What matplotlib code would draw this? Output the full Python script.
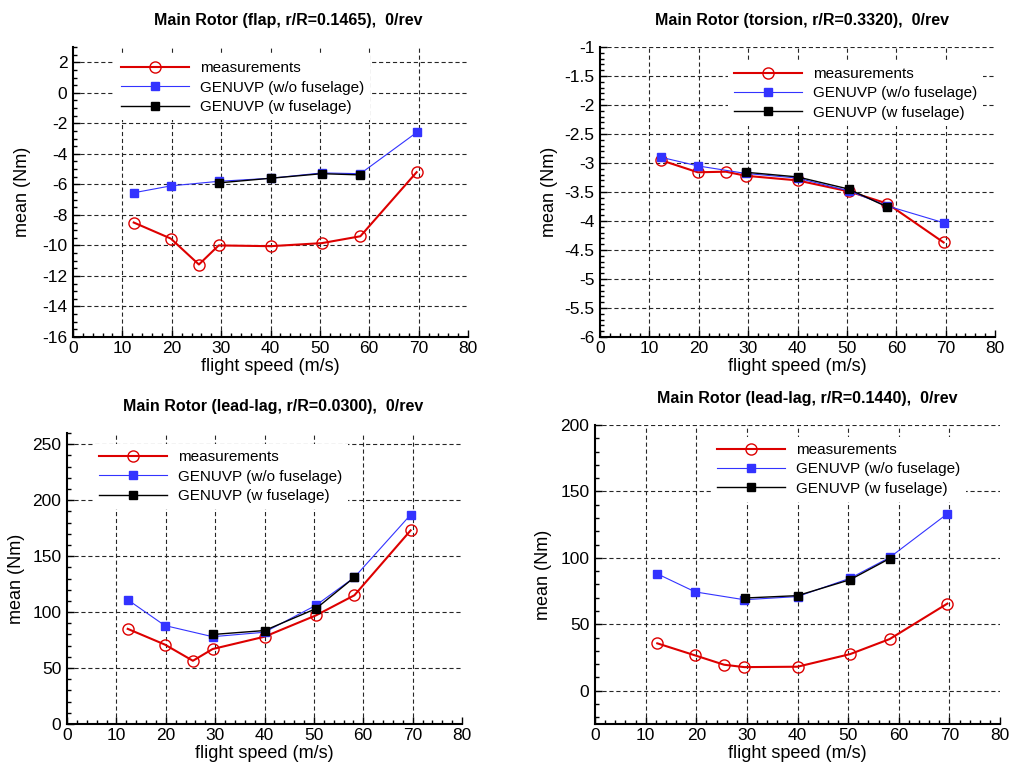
import matplotlib
matplotlib.use("Agg")
import matplotlib.pyplot as plt
from matplotlib.ticker import MultipleLocator, FuncFormatter

plt.rcParams["font.family"] = ["Liberation Sans", "DejaVu Sans"]
plt.rcParams["axes.unicode_minus"] = False
plt.rcParams["lines.scale_dashes"] = False

# flight speeds (m/s)
speed_meas = [12.3, 19.8, 25.5, 29.5, 40.0, 50.4, 58.2, 69.6]
speed_wo = [12.3, 19.8, 29.5, 40.0, 50.4, 58.2, 69.6]
speed_w = [29.6, 40.0, 50.4, 58.2]

# flap, r/R=0.1465
flap_meas = [-8.5, -9.55, -11.25, -10.0, -10.05, -9.85, -9.4, -5.2]
flap_wo = [-6.55, -6.1, -5.8, -5.6, -5.25, -5.3, -2.6]
flap_w = [-5.9, -5.6, -5.3, -5.38]

# torsion, r/R=0.3320
tors_meas = [-2.95, -3.16, -3.15, -3.22, -3.30, -3.49, -3.70, -4.37]
tors_wo = [-2.90, -3.05, -3.18, -3.26, -3.48, -3.74, -4.03]
tors_w = [-3.16, -3.24, -3.45, -3.76]

# lead-lag, r/R=0.0300
lag1_meas = [85, 71, 56.5, 67, 78, 97, 115, 173]
lag1_wo = [111, 88, 78, 82, 106, 131, 187]
lag1_w = [80, 83.5, 103, 131]

# lead-lag, r/R=0.1440
lag2_meas = [35.7, 26.6, 19.6, 17.8, 18.1, 27.6, 38.9, 65.6]
lag2_wo = [88, 74.4, 68.5, 70.9, 84.7, 100.3, 133.2]
lag2_w = [69.8, 71.6, 83.6, 99.5]

W, H = 1012, 764
fig = plt.figure(figsize=(W / 100, H / 100), dpi=100)

panels = [
    # title, data, ylim, ymajor, yminor, axes box px (l, r, t, b), title px (x, y), legend anchor
    ("Main Rotor (flap, r/R=0.1465),  0/rev", (flap_meas, flap_wo, flap_w),
     (-16, 3), 2, 0.5, (73, 468, 47, 337), (288, 21), (0.106, 0.972)),
    ("Main Rotor (torsion, r/R=0.3320),  0/rev", (tors_meas, tors_wo, tors_w),
     (-6, -1), 0.5, 0.1, (600, 995, 47, 337), (802, 21), (0.324, 0.952)),
    ("Main Rotor (lead-lag, r/R=0.0300),  0/rev", (lag1_meas, lag1_wo, lag1_w),
     (0, 260), 50, 10, (67, 462, 433, 724), (273, 407), (0.066, 0.962)),
    ("Main Rotor (lead-lag, r/R=0.1440),  0/rev", (lag2_meas, lag2_wo, lag2_w),
     (-25, 200), 50, 10, (595, 1000, 425, 724), (807, 399), (0.286, 0.960)),
]

fmt = FuncFormatter(lambda v, p: "%g" % v)

for title, (meas, wo, w), ylim, ymaj, ymin, box, tpos, lanchor in panels:
    l, r, t, b = box
    ax = fig.add_axes([l / W, 1 - b / H, (r - l) / W, (b - t) / H])

    ax.plot(speed_meas, meas, color="#dd0000", lw=1.5, marker="o", ms=8,
            mfc="none", mec="#dd0000", mew=1.0, label="measurements", zorder=3)
    ax.plot(speed_wo, wo, color="#3333ff", lw=0.8, marker="s", ms=5.5,
            mec="#3333ff", mfc="#3333ff", label="GENUVP (w/o fuselage)", zorder=4)
    ax.plot(speed_w, w, color="black", lw=1.0, marker="s", ms=5.5,
            mec="black", mfc="black", label="GENUVP (w fuselage)", zorder=5)

    ax.set_xlim(0, 80)
    ax.set_ylim(*ylim)
    ax.xaxis.set_major_locator(MultipleLocator(10))
    ax.xaxis.set_minor_locator(MultipleLocator(2))
    ax.yaxis.set_major_locator(MultipleLocator(ymaj))
    ax.yaxis.set_minor_locator(MultipleLocator(ymin))
    ax.xaxis.set_major_formatter(fmt)
    ax.yaxis.set_major_formatter(fmt)

    for s in ("top", "right"):
        ax.spines[s].set_visible(False)
    for s in ("left", "bottom"):
        ax.spines[s].set_linewidth(1.5)

    ax.tick_params(which="both", direction="in", width=1, labelsize=12.5)
    ax.tick_params(which="major", length=5)
    ax.tick_params(which="minor", length=3)
    ax.tick_params(axis="x", pad=3)
    ax.tick_params(axis="y", pad=4)

    ax.grid(True, which="major", color="0.15", lw=0.8, ls=(0, (3, 2)))
    ax.set_axisbelow(True)
    fig.canvas.draw()
    for tk in ax.xaxis.get_major_ticks():
        if tk.get_loc() >= 80 or tk.get_loc() <= 0:
            tk.gridline.set_visible(False)

    ax.set_xlabel("flight speed (m/s)", fontsize=13, labelpad=1)
    ax.set_ylabel("mean (Nm)", fontsize=13)
    ax.yaxis.set_label_coords(-0.106, 0.5)

    leg = ax.legend(loc="upper left", bbox_to_anchor=lanchor, fontsize=11,
                    frameon=True, fancybox=False, facecolor="white",
                    edgecolor="none", framealpha=1, borderpad=0.4,
                    borderaxespad=0, handlelength=4.45, handletextpad=0.7,
                    labelspacing=0.35, numpoints=1)
    leg.set_zorder(6)

    fig.text(tpos[0] / W, 1 - tpos[1] / H, title, ha="center", va="center",
             fontsize=11.5, fontweight="bold")

fig.savefig("out.png", dpi=100)
